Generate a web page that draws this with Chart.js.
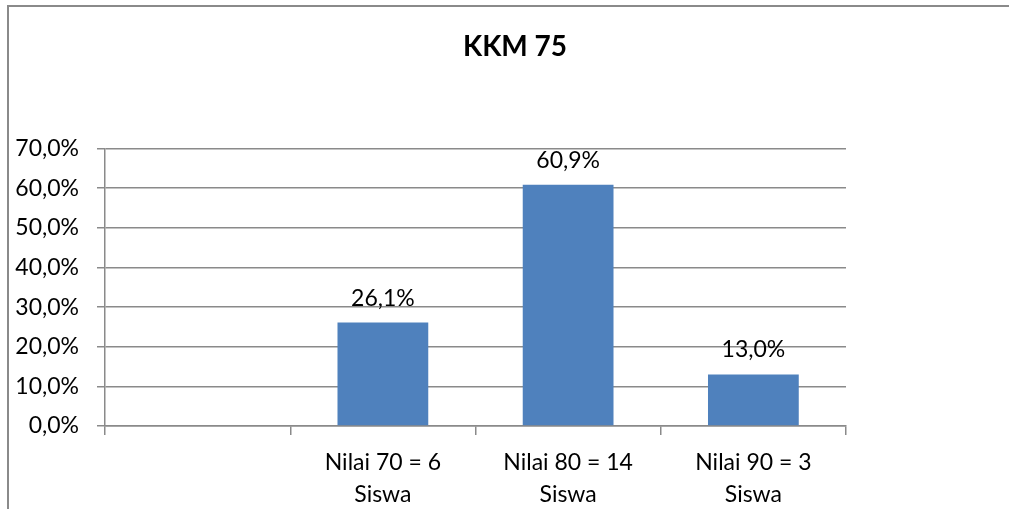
<!DOCTYPE html>
<html>
<head>
<meta charset="utf-8">
<script src="https://cdn.jsdelivr.net/npm/chart.js@4/dist/chart.umd.min.js"></script>
<style>
  html, body { margin: 0; padding: 0; background: #fff; overflow: hidden; width: 1009px; height: 509px; }
  #frame { position: absolute; left: 7px; top: 5px; width: 1100px; height: 600px;
           border-top: 2px solid #8a8a8a; border-left: 2px solid #8a8a8a; }
  #wrap { position: absolute; left: 0; top: 0; width: 1015px; height: 509px; }
</style>
</head>
<body>
<div id="frame"></div>
<div id="wrap"><canvas id="c" width="1015" height="509"></canvas></div>
<script>
const titleText = 'KKM 75';
const categories = [
  '',
  ['Nilai 70 = 6', 'Siswa'],
  ['Nilai 80 = 14', 'Siswa'],
  ['Nilai 90 = 3', 'Siswa']
];
const percentValues = [null, 26.1, 60.9, 13.0];
const yTicks = [0, 10, 20, 30, 40, 50, 60, 70];

const fmt = v => v.toFixed(1).replace('.', ',') + '%';

const valueLabels = {
  id: 'valueLabels',
  afterDatasetsDraw(chart) {
    const ctx = chart.ctx;
    const meta = chart.getDatasetMeta(0);
    ctx.save();
    ctx.font = '23px Lato';
    ctx.fillStyle = '#000';
    ctx.textAlign = 'center';
    ctx.textBaseline = 'alphabetic';
    meta.data.forEach((bar, i) => {
      const v = chart.data.datasets[0].data[i];
      if (v === null || v === undefined) return;
      ctx.fillText(fmt(v), bar.x, bar.y - 17);
    });
    ctx.restore();
  }
};

function draw() {
  Chart.defaults.font.family = 'Lato';
  Chart.defaults.color = '#000';
  new Chart(document.getElementById('c'), {
    type: 'bar',
    data: {
      labels: categories,
      datasets: [{
        data: percentValues,
        backgroundColor: '#4F81BD',
        borderWidth: 0,
        categoryPercentage: 1,
        barPercentage: 0.49
      }]
    },
    options: {
      responsive: false,
      animation: false,
      layout: { padding: { left: 15, right: 0, top: 0, bottom: 0 } },
      plugins: {
        legend: { display: false },
        tooltip: { enabled: false },
        title: {
          display: true,
          text: titleText,
          color: '#000',
          font: { size: 28, weight: 'bold', family: 'Lato', lineHeight: 1.2 },
          padding: { top: 30, bottom: 85 }
        }
      },
      scales: {
        x: {
          offset: true,
          afterFit(s) { s.height = 83; },
          grid: { offset: true, drawOnChartArea: false, drawTicks: true, tickLength: 9, color: '#8a8a8a', lineWidth: 1.5 },
          border: { display: true, color: '#8a8a8a', width: 1.5 },
          ticks: { font: { size: 23, lineHeight: 1.39 }, padding: 12, color: '#000', maxRotation: 0, autoSkip: false }
        },
        y: {
          min: 0,
          max: 70,
          afterFit(s) { s.width = 90; },
          afterBuildTicks(s) { s.ticks = yTicks.map(v => ({ value: v })); },
          grid: { color: '#8a8a8a', lineWidth: 1.5, tickLength: 8, drawTicks: true },
          border: { display: true, color: '#8a8a8a', width: 1.5 },
          ticks: { font: { size: 23 }, padding: 18, color: '#000', callback: v => fmt(v) }
        },
        spacer: {
          type: 'linear',
          position: 'right',
          display: true,
          afterFit(s) { s.width = 169; },
          grid: { display: false, drawTicks: false },
          border: { display: false },
          ticks: { display: false }
        }
      }
    },
    plugins: [valueLabels]
  });
}
if (document.fonts && document.fonts.load) {
  Promise.all([document.fonts.load('23px Lato'), document.fonts.load('bold 28px Lato')]).then(draw, draw);
} else { draw(); }
</script>
</body>
</html>
